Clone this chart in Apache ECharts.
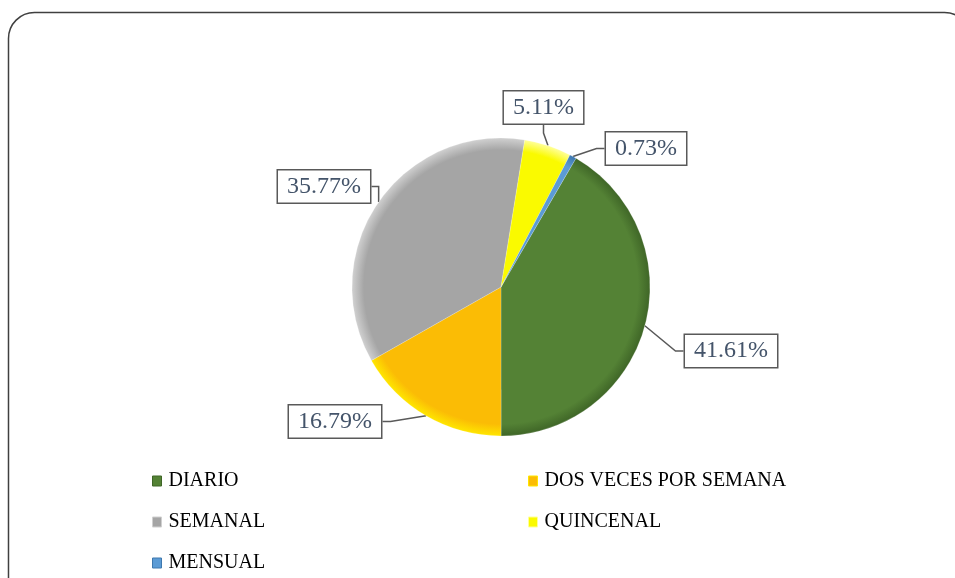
<!DOCTYPE html>
<html>
<head>
<meta charset="utf-8">
<script src="https://cdn.jsdelivr.net/npm/echarts@6/dist/echarts.min.js"></script>
<style>
html,body{margin:0;padding:0;background:#fff;}
#chart{width:955px;height:578px;}
</style>
</head>
<body>
<div id="chart"></div>
<script>
// ---- data ----
const categories = ['DIARIO', 'DOS VECES POR SEMANA', 'SEMANAL', 'QUINCENAL', 'MENSUAL'];
const values = [41.61, 16.79, 35.77, 5.11, 0.73];

// ---- styles ----
const baseColors = ['#548235', '#FBBC05', '#A5A5A5', '#FAFA00', '#5B9BD5'];
const rimColors  = ['#3F6627', '#FFE600', '#D0D0D0', '#FFFF9A', '#3E78AE'];
const CX = 501, CY = 287, R = 149;
// label box centres (callout placement)
const labelCenters = [[731, 351], [335, 421.5], [324, 186.5], [543.5, 107.5], [646, 148.5]];
// legend slots: [left, top] for each category, in category order
const legendSlots = [[152, 471], [528, 471], [152, 512], [528, 512], [152, 553]];

const chart = echarts.init(document.getElementById('chart'), null, {renderer: 'canvas'});

function grad(i) {
  return {
    type: 'radial', x: CX, y: CY, r: R, global: true,
    colorStops: [
      {offset: 0, color: baseColors[i]},
      {offset: 0.92, color: baseColors[i]},
      {offset: 1, color: rimColors[i]}
    ]
  };
}

const seriesData = categories.map((c, i) => ({
  name: c,
  value: values[i],
  itemStyle: {color: grad(i)}
}));

const legends = categories.map((c, i) => ({
  left: legendSlots[i][0],
  top: legendSlots[i][1],
  padding: 0,
  orient: 'horizontal',
  itemWidth: 9,
  itemHeight: 10,
  icon: 'rect',
  textStyle: {fontFamily: 'Liberation Serif', fontSize: 20, color: '#000', lineHeight: 20, padding: [0, 0, 0, 2]},
  data: [{name: c, itemStyle: {color: baseColors[i], borderColor: rimColors[i], borderWidth: 1}}]
}));

chart.setOption({
  backgroundColor: '#fff',
  animation: false,
  graphic: [{
    type: 'rect',
    shape: {x: 8.5, y: 12.5, width: 962, height: 620, r: 26},
    style: {fill: 'none', stroke: '#404040', lineWidth: 1.5},
    silent: true
  }],
  legend: legends,
  series: [{
    type: 'pie',
    center: [CX, CY],
    radius: R,
    startAngle: 59.8,
    clockwise: true,
    avoidLabelOverlap: false,
    minAngle: 0,
    itemStyle: {borderColor: 'rgba(255,255,255,0.35)', borderWidth: 0.5},
    label: {
      show: true,
      position: 'outside',
      formatter: p => p.value.toFixed(2) + '%',
      fontFamily: 'Liberation Serif',
      fontSize: 24,
      color: '#44546A',
      backgroundColor: '#fff',
      borderColor: '#595959',
      borderWidth: 1.5,
      padding: [5, 9, 3, 9]
    },
    labelLine: {
      show: true,
      length: 10,
      length2: 8,
      lineStyle: {color: '#595959', width: 1.5}
    },
    labelLayout: function (params) {
      const c = labelCenters[params.dataIndex];
      return {x: c[0], y: c[1], align: 'center', verticalAlign: 'middle'};
    },
    emphasis: {disabled: true},
    data: seriesData
  }]
});
</script>
</body>
</html>
